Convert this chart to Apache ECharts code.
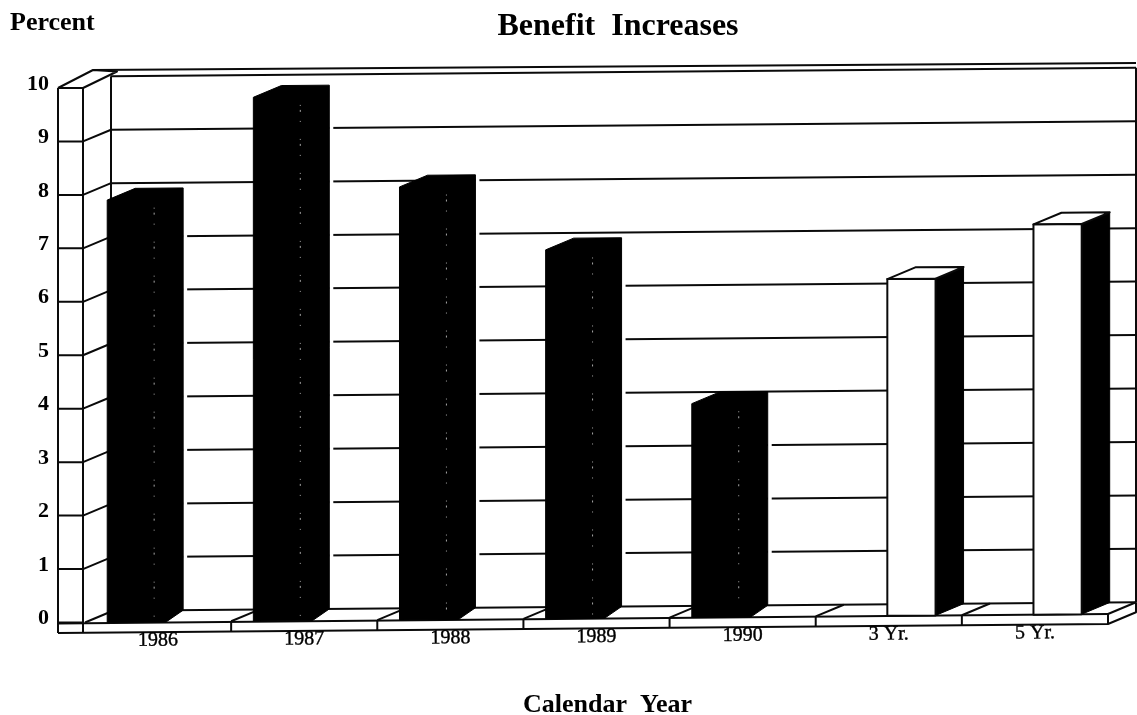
<!DOCTYPE html>
<html>
<head>
<meta charset="utf-8">
<style>html,body{margin:0;padding:0;background:#fff}#chart{width:1137px;height:715px}</style>
<script src="https://cdn.jsdelivr.net/npm/echarts@6/dist/echarts.min.js"></script>
</head>
<body>
<div id="chart"></div>
<script>
// Benefit increases by calendar year, plus 3- and 5-year averages
const categories = ['1986', '1987', '1988', '1989', '1990', '3 Yr.', '5 Yr.'];
const annualValues = [7.9, 9.8, 8.1, 6.9, 4.0, null, null];
const averageValues = [null, null, null, null, null, 6.3, 7.3];
const yTicks = [0, 1, 2, 3, 4, 5, 6, 7, 8, 9, 10];

// Oblique projection of the box: depth offset and a slight overall tilt of the page
const DEPTH_X = 28, DEPTH_Y = 11.5, TILT = 0.0083;
const INK = '#0a0a0a', LINE_W = 2;
const SERIF = '"Liberation Serif", "Times New Roman", serif';

// Converts a front-plane pixel plus a depth fraction into the sheared drawing position
function shear(x, y, depth, originX) {
  const px = x + depth * DEPTH_X;
  return [px, y - depth * DEPTH_Y - TILT * (px - originX)];
}

function line(points) {
  return {
    type: 'polyline',
    shape: { points: points },
    style: { stroke: INK, lineWidth: LINE_W, fill: null, lineJoin: 'round' }
  };
}

// Back wall, left wall and floor slab outlines
function renderFrame(params, api) {
  const c = params.coordSys;
  const x0 = c.x, x1 = c.x + c.width;
  const y10 = api.coord([0, 10])[1], y0 = api.coord([0, 0])[1];
  const P = (x, y, d) => shear(x, y, d, x0);
  const wallX = x0 - 27;
  const children = [
    // back wall
    line([P(x0 - 2, y10, 1), P(x1, y10, 1)]),
    line([P(x1, y10, 1), P(x1, y0, 1)]),
    line([P(x0 - 2, y10, 1), P(x0 - 2, y0, 1)]),
    // outer top rim
    line([[wallX, y10], [x0 + 8, y10 - 18], [x0 + 32, y10 - 16.5], [x0 - 2, y10]]),
    line([[x0 + 8, y10 - 18], [x1 + DEPTH_X, y10 - 25]]),
    // left wall panel
    line([[wallX, y10], [x0 - 2, y10]]),
    line([[wallX, y10], [wallX, y0 + 10.5]]),
    line([[x0 - 2, y10], [x0 - 2, y0 + 10.5]]),
    // floor: back edge, front edge, slab bottom and right end
    line([P(x0 - 2, y0, 1), P(x1, y0, 1)]),
    line([[wallX, y0 + 1], P(x1, y0, 0)]),
    line([[wallX, y0 + 10.5], P(x1, y0 + 10, 0), P(x1, y0 + 10, 1), P(x1, y0, 1)]),
    line([P(x1, y0, 0), P(x1, y0 + 10, 0)]),
    line([P(x1, y0, 0), P(x1, y0, 1)])
  ];
  return { type: 'group', children: children };
}

// Horizontal rule for each tick, wrapping from the left wall onto the back wall
function renderGridLine(params, api) {
  const c = params.coordSys;
  const v = api.value(0);
  const y = api.coord([0, v])[1];
  const x0 = c.x, x1 = c.x + c.width;
  if (v === 0 || v === 10) {
    return line([[x0 - 27, y], [x0 - 2, y]]);
  }
  return line([
    [x0 - 27, y], [x0 - 2, y],
    shear(x0 - 2, y, 1, x0), shear(x1, y, 1, x0)
  ]);
}

// Slab dividers and the floor diagonal at each category boundary
function renderDivider(params, api) {
  const c = params.coordSys;
  const i = api.value(0);
  const band = c.width / categories.length;
  const x = c.x + band * i;
  const y0 = api.coord([0, 0])[1];
  const front = shear(x, y0, 0, c.x);
  const below = shear(x, y0 + 10, 0, c.x);
  const back = shear(x, y0, 1, c.x);
  return { type: 'group', children: [line([front, back]), i > 0 ? line([front, below]) : line([front, front])] };
}

// Builds one oblique bar from its category and value
function barRenderer(slotStart, slotWidth, solid) {
  return function (params, api) {
    const v = api.value(1);
    if (v === null || isNaN(v)) return null;
    const c = params.coordSys;
    const cat = api.value(0);
    const band = api.size([1, 0])[0];
    const base = api.coord([cat, 0]);
    const top = api.coord([cat, v]);
    const xa = base[0] - band / 2 + slotStart * band;
    const xb = xa + slotWidth * band;
    const P = (x, y, d) => shear(x, y, d, c.x);
    const fl = P(xa, base[1], 0), fr = P(xb, base[1], 0);
    const tl = P(xa, top[1], 0), tr = P(xb, top[1], 0);
    const bl = P(xa, top[1], 1), br = P(xb, top[1], 1);
    const gb = P(xb, base[1], 1);
    if (solid) {
      const foot = [fr[0] + 11, fr[1]];
      return {
        type: 'group',
        children: [
          {
            // thin paper-white halo where the rules stop short of the bar
            type: 'line',
            shape: { x1: br[0] + 2, y1: br[1] + 2, x2: gb[0] + 2, y2: gb[1] - 4 },
            style: { stroke: '#fff', lineWidth: 4 }
          },
          {
            type: 'polygon',
            shape: { points: [fl, tl, bl, br, gb, foot] },
            style: { fill: '#000', stroke: '#000', lineWidth: 1, lineJoin: 'round' }
          },
          {
            // speckled highlight left along the front-right edge by the print screen
            type: 'line',
            shape: { x1: tr[0] - 1, y1: tr[1] + 8, x2: fr[0] - 1, y2: fr[1] - 3 },
            style: { stroke: '#a8a8a8', lineWidth: 1, lineDash: [1, 4, 2, 9, 1, 17] }
          }
        ]
      };
    }
    return {
      type: 'group',
      children: [
        {
          type: 'polygon',
          shape: { points: [fr, tr, br, gb] },
          style: { fill: '#000', stroke: '#000', lineWidth: 1, lineJoin: 'round' }
        },
        {
          type: 'polygon',
          shape: { points: [tl, bl, br, tr] },
          style: { fill: '#fff', stroke: INK, lineWidth: LINE_W, lineJoin: 'round' }
        },
        {
          type: 'polygon',
          shape: { points: [fl, tl, tr, fr] },
          style: { fill: '#fff', stroke: INK, lineWidth: LINE_W, lineJoin: 'round' }
        }
      ]
    };
  };
}

// Category names follow the tilted front edge of the slab
function renderCategoryLabel(params, api) {
  const c = params.coordSys;
  const cat = api.value(0);
  const p = api.coord([cat, 0]);
  const pos = shear(p[0], p[1] + 18.5, 0, c.x);
  return {
    type: 'text',
    x: pos[0], y: pos[1],
    rotation: TILT,
    style: {
      text: categories[cat],
      fill: '#000',
      stroke: '#000',
      lineWidth: 0.4,
      font: '20px ' + SERIF,
      align: 'center',
      verticalAlign: 'middle'
    }
  };
}

const chart = echarts.init(document.getElementById('chart'));
chart.setOption({
  backgroundColor: '#ffffff',
  animation: false,
  title: {
    text: 'Benefit  Increases',
    left: 613, top: 6,
    textAlign: 'center',
    textStyle: { fontFamily: SERIF, fontWeight: 'bold', fontSize: 32, color: '#000' }
  },
  grid: { left: 85, top: 88, width: 1023, height: 534.5, outerBoundsMode: 'none' },
  xAxis: {
    type: 'category',
    data: categories,
    axisLine: { show: false },
    axisTick: { show: false },
    axisLabel: { show: false },
    name: 'Calendar  Year',
    nameLocation: 'middle',
    nameGap: 70,
    nameTextStyle: {
      fontFamily: SERIF, fontWeight: 'bold', fontSize: 26, color: '#000',
      padding: [0, 0, 0, 22]
    }
  },
  yAxis: {
    type: 'value',
    min: 0, max: 10, interval: 1,
    splitLine: { show: false },
    axisLine: { show: false },
    axisTick: { show: false },
    axisLabel: {
      margin: 36,
      verticalAlign: 'bottom',
      lineHeight: 8,
      color: '#000',
      fontFamily: SERIF, fontWeight: 'bold', fontSize: 22
    },
    name: 'Percent',
    nameLocation: 'end',
    nameGap: 52,
    nameTextStyle: {
      fontFamily: SERIF, fontWeight: 'bold', fontSize: 26, color: '#000',
      align: 'left', padding: [0, 0, 0, -75]
    }
  },
  series: [
    { type: 'custom', name: 'Frame', data: [[0]], renderItem: renderFrame, silent: true, z: 1 },
    { type: 'custom', name: 'Grid', data: yTicks.map(v => [v]), encode: { y: 0 }, renderItem: renderGridLine, silent: true, z: 2 },
    {
      type: 'custom', name: 'Dividers',
      data: categories.map((_, i) => [i]),
      renderItem: renderDivider, silent: true, z: 3
    },
    {
      type: 'custom', name: 'Annual',
      data: annualValues.map((v, i) => [i, v]),
      encode: { x: 0, y: 1 },
      renderItem: barRenderer(0.152, 0.328, true), z: 4
    },
    {
      type: 'custom', name: 'Average',
      data: averageValues.map((v, i) => [i, v]),
      encode: { x: 0, y: 1 },
      renderItem: barRenderer(0.49, 0.33, false), z: 4
    },
    {
      type: 'custom', name: 'Labels',
      data: categories.map((_, i) => [i]),
      encode: { x: 0 },
      renderItem: renderCategoryLabel, silent: true, z: 5
    }
  ]
});
</script>
</body>
</html>
